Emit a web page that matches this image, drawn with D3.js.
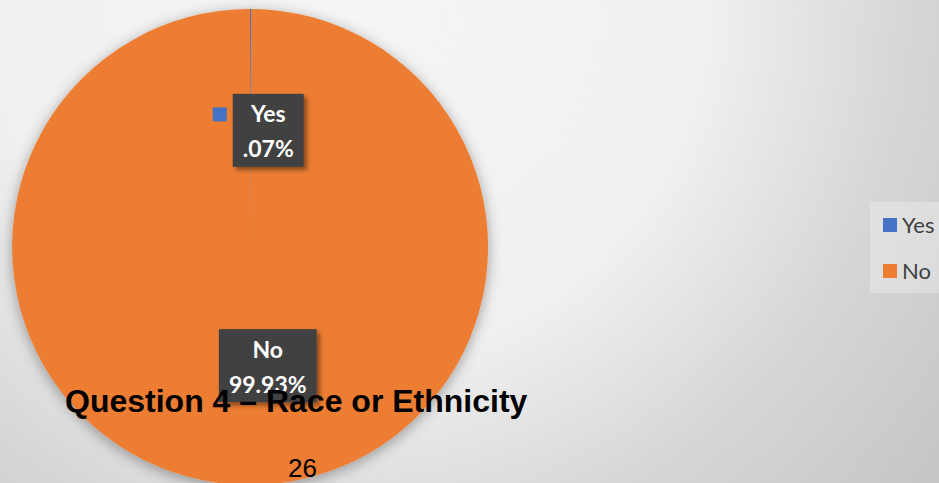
<!DOCTYPE html>
<html>
<head>
<meta charset="utf-8">
<script src="https://cdn.jsdelivr.net/npm/d3@7"></script>
<style>
  html, body { margin: 0; padding: 0; overflow: hidden; }
  svg { display: block; }
</style>
</head>
<body>
<svg id="chart" width="939" height="483"></svg>
<script>
// ---- data ----
const categories = ["Yes", "No"];
const values = [0.07, 99.93];
const valueLabels = [".07%", "99.93%"];
const colors = ["#4472C4", "#ED7D31"];
const title = "Question 4 \u2013 Race or Ethnicity";
const pageNumber = "26";

const W = 939, H = 483;
const svg = d3.select("#chart");
const defs = svg.append("defs");

// background gradient
const bg = defs.append("radialGradient").attr("id", "bg")
  .attr("gradientUnits", "userSpaceOnUse")
  .attr("cx", 350).attr("cy", 0).attr("r", 800);
bg.append("stop").attr("offset", 0).attr("stop-color", "#f5f5f5");
bg.append("stop").attr("offset", 0.45).attr("stop-color", "#f0f0f0");
bg.append("stop").attr("offset", 0.7).attr("stop-color", "#d6d6d6");
bg.append("stop").attr("offset", 1).attr("stop-color", "#c2c2c2");
svg.append("rect").attr("width", W).attr("height", H).attr("fill", "url(#bg)");

// shadows
const pieShadow = defs.append("filter").attr("id", "pieShadow")
  .attr("x", "-20%").attr("y", "-20%").attr("width", "140%").attr("height", "140%");
pieShadow.append("feDropShadow").attr("dx", 0).attr("dy", 3)
  .attr("stdDeviation", 7).attr("flood-color", "#000").attr("flood-opacity", 0.35);

const boxShadow = defs.append("filter").attr("id", "boxShadow")
  .attr("x", "-30%").attr("y", "-30%").attr("width", "160%").attr("height", "160%");
boxShadow.append("feDropShadow").attr("dx", 3).attr("dy", 3)
  .attr("stdDeviation", 2.5).attr("flood-color", "#000").attr("flood-opacity", 0.45);

// texture pattern for label boxes
const pat = defs.append("pattern").attr("id", "tex")
  .attr("patternUnits", "userSpaceOnUse").attr("width", 4).attr("height", 4);
pat.append("rect").attr("width", 4).attr("height", 4).attr("fill", "#3d3d3d");
pat.append("circle").attr("cx", 1).attr("cy", 1).attr("r", 0.9).attr("fill", "#494949");
pat.append("circle").attr("cx", 3).attr("cy", 3).attr("r", 0.9).attr("fill", "#494949");

// ---- pie ----
const cx = 250, cy = 247, R = 238;
const pie = d3.pie().sort(null).value(d => d)(values);
const arc = d3.arc().innerRadius(0).outerRadius(R);
const labelArc = d3.arc().innerRadius(R * 0.49).outerRadius(R * 0.49);

const gPie = svg.append("g").attr("transform", `translate(${cx},${cy})`);
gPie.append("g").attr("filter", "url(#pieShadow)")
  .selectAll("path").data(pie).join("path")
  .attr("d", arc)
  .attr("fill", (d, i) => colors[i]);

// ---- data labels ----
const gLab = svg.append("g").attr("transform", `translate(${cx},${cy})`);
pie.forEach((d, i) => {
  const [ax, ay] = labelArc.centroid(d);
  const g = gLab.append("g").attr("transform", `translate(${ax + 18},${ay + (i === 1 ? 2 : 0)})`);
  const box = g.append("rect").attr("fill", "url(#tex)").attr("filter", "url(#boxShadow)");
  const t1 = g.append("text").attr("text-anchor", "middle").attr("y", -8)
    .attr("fill", "#fff").attr("font-family", "Lato, 'Open Sans', sans-serif")
    .attr("font-weight", "bold").attr("font-size", 23).text(categories[i]);
  const t2 = g.append("text").attr("text-anchor", "middle").attr("y", 27)
    .attr("fill", "#fff").attr("font-family", "Lato, 'Open Sans', sans-serif")
    .attr("font-weight", "bold").attr("font-size", 23).text(valueLabels[i]);
  const w = Math.max(t1.node().getComputedTextLength(), t2.node().getComputedTextLength()) + 20;
  const h = 73;
  box.attr("x", -w / 2).attr("y", -h / 2).attr("width", w).attr("height", h);
  g.append("rect").attr("x", -w / 2 - 20).attr("y", -23).attr("width", 14).attr("height", 14)
    .attr("fill", colors[i]);
});

// ---- legend ----
const gLeg = svg.append("g");
gLeg.append("rect").attr("x", 870).attr("y", 202).attr("width", 75).attr("height", 91)
  .attr("fill", "#fff").attr("fill-opacity", 0.28);
const legY = d3.scalePoint().domain(categories).range([225, 271]);
categories.forEach((c, i) => {
  gLeg.append("rect").attr("x", 883).attr("y", legY(c) - 7).attr("width", 14).attr("height", 14)
    .attr("fill", colors[i]);
  gLeg.append("text").attr("x", 902).attr("y", legY(c) + 8)
    .attr("fill", "#404040").attr("font-family", "Lato, 'Open Sans', sans-serif")
    .attr("font-size", 22).text(c);
});

// ---- title & page number ----
svg.append("text").attr("x", 65).attr("y", 412)
  .attr("font-family", "'Liberation Sans', Arial, sans-serif").attr("font-weight", "bold")
  .attr("font-size", 32).attr("fill", "#000").text(title);
svg.append("text").attr("x", 302.5).attr("y", 477).attr("text-anchor", "middle")
  .attr("font-family", "'Liberation Sans', Arial, sans-serif")
  .attr("font-size", 26).attr("fill", "#000").text(pageNumber);
</script>
</body>
</html>
